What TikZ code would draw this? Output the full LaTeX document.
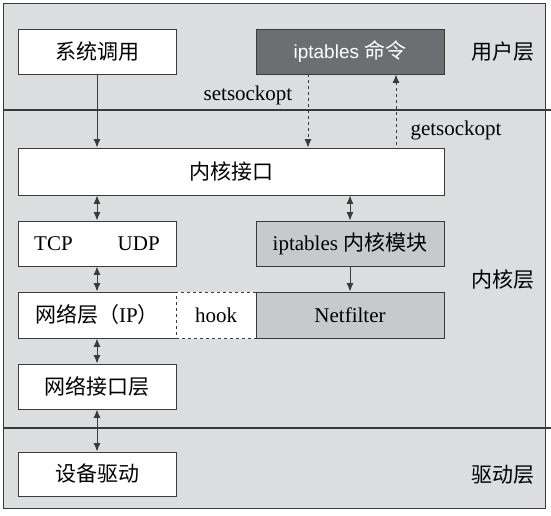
\documentclass[tikz,border=0pt]{standalone}
\usepackage{fontspec}
\setmainfont{Liberation Serif}
\newfontfamily\cjk{Noto Sans CJK SC}
\newfontfamily\sans{Liberation Sans}
\usetikzlibrary{arrows.meta}
\definecolor{layerbg}{HTML}{DCDDDF}
\definecolor{darkbox}{HTML}{6D6E71}
\definecolor{greybox}{HTML}{C8C9CB}
\definecolor{linecol}{HTML}{3A3A3A}

\begin{document}
\begin{tikzpicture}[x=1pt,y=-1pt,>={Latex[length=8.5pt,width=7pt]},
  box/.style={draw=linecol,fill=white,line width=0.9pt,inner sep=0pt,
    minimum width=158pt,minimum height=45pt,font=\fontsize{21}{24}\selectfont},
  widebox/.style={box,minimum width=188pt},
  hookbox/.style={box,dashed,minimum width=80pt,minimum height=46pt,preaction={draw=white,solid}},
  lbl/.style={inner sep=0pt,font=\fontsize{21}{24}\selectfont},
  arr/.style={draw=linecol,line width=1pt},
  sep/.style={draw=linecol,line width=2pt}]
\useasboundingbox (0,0) rectangle (551,515);
\draw[fill=layerbg,draw=linecol,line width=0.9pt] (3,3) rectangle (545,508);
\draw[sep] (3,110) -- (551,110);
\draw[sep] (3,428) -- (551,428);

% user layer
\node[box] (sys) at (97,51.5) {\cjk 系统调用};
\node[widebox,fill=darkbox,text=white] (ipt) at (350,51.5)
  {\sans\fontsize{19}{24}\selectfont iptables {\cjk\fontsize{21}{24}\selectfont 命令}};
\node[lbl] (user) at (503,52) {\cjk 用户层};
\node[lbl] (setl) at (248,95) {setsockopt};
\node[lbl] (getl) at (456,130) {getsockopt};

% kernel layer
\node[box,minimum width=426pt,minimum height=47pt] (kif) at (231,171.5) {\cjk 内核接口};
\node[box] (tcp) at (97,243.5) {TCP\hspace{45pt}UDP};
\node[widebox,fill=greybox] (ikm) at (350,243.5) {iptables {\cjk 内核模块}};
\node[box,minimum height=46pt] (ip) at (97,315) {{\cjk 网络层（}IP{\cjk ）}};
\node[hookbox] (hook) at (216,315) {hook};
\node[widebox,fill=greybox,minimum height=46pt] (nf) at (350,315) {Netfilter};
\node[box] (nic) at (97,386.5) {\cjk 网络接口层};
\node[lbl] (kern) at (503,280) {\cjk 内核层};

% driver layer
\node[box,minimum height=44pt] (drv) at (97,474) {\cjk 设备驱动};
\node[lbl] (drvl) at (503,475) {\cjk 驱动层};

% connectors
\draw[arr,->] (sys.south) -- (sys.south |- kif.north);
\draw[arr,dashed,->] ([xshift=-42pt]ipt.south) -- ([xshift=-42pt]ipt.south |- kif.north);
\draw[arr,dashed,<-] ([xshift=46pt]ipt.south) -- ([xshift=46pt]ipt.south |- kif.north);
\draw[arr,<->] (tcp.north |- kif.south) -- (tcp.north);
\draw[arr,<->] (ikm.north |- kif.south) -- (ikm.north);
\draw[arr,<->] (tcp.south) -- (ip.north);
\draw[arr,->] (ikm.south) -- (nf.north);
\draw[arr,<->] (ip.south) -- (nic.north);
\draw[arr,<->] (nic.south) -- (drv.north);
\end{tikzpicture}
\end{document}
